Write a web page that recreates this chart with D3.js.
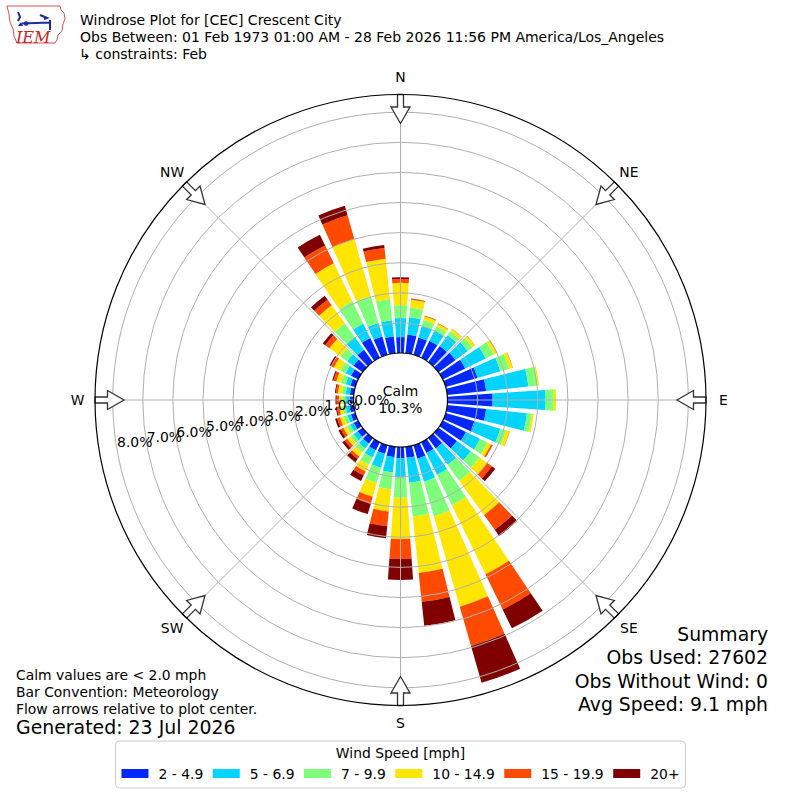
<!DOCTYPE html>
<html>
<head>
<meta charset="utf-8">
<script src="https://cdn.jsdelivr.net/npm/d3@7"></script>
<style>
body { margin: 0; background: #fff; }
text { font-family: "DejaVu Sans", sans-serif; fill: #000; }
</style>
</head>
<body>
<script>
// layout
var width = 800, height = 800,
    cx = 400.5, cy = 400,
    calmR = 47, outerR = 305.5,
    fs = 13.9;

// data (percent of obs, per 10 degree bin, from N clockwise)
var directions = [0, 10, 20, 30, 40, 50, 60, 70, 80, 90, 100, 110, 120, 130, 140, 150, 160, 170,
                  180, 190, 200, 210, 220, 230, 240, 250, 260, 270, 280, 290, 300, 310, 320, 330, 340, 350];
var speedBins = ["2 - 4.9", "5 - 6.9", "7 - 9.9", "10 - 14.9", "15 - 19.9", "20+"];
var binColors = ["#0028ff", "#00d4ff", "#7dff7a", "#ffe600", "#ff4a00", "#800000"];

var spd2 = [0.53, 0.63, 0.60, 0.63, 0.66, 0.70, 0.83, 1.10, 1.30, 1.50, 1.30, 1.03, 0.86, 0.76, 0.43, 0.40, 0.47, 0.37,
            0.37, 0.35, 0.30, 0.30, 0.23, 0.20, 0.17, 0.15, 0.13, 0.13, 0.13, 0.17, 0.27, 0.37, 0.50, 0.73, 0.63, 0.56];
var spd5 = [0.63, 0.57, 0.40, 0.37, 0.44, 0.50, 0.76, 0.79, 1.41, 1.76, 1.36, 0.86, 0.52, 0.57, 0.67, 0.80, 0.79, 0.83,
            0.63, 0.51, 0.48, 0.26, 0.20, 0.17, 0.13, 0.12, 0.14, 0.14, 0.14, 0.16, 0.20, 0.26, 0.53, 0.53, 0.47, 0.54];
var spd7 = [0.43, 0.33, 0.20, 0.16, 0.16, 0.20, 0.30, 0.30, 0.31, 0.27, 0.16, 0.20, 0.28, 0.36, 0.66, 1.13, 1.20, 1.13,
            0.69, 0.57, 0.52, 0.27, 0.17, 0.13, 0.13, 0.13, 0.10, 0.10, 0.13, 0.17, 0.19, 0.27, 0.56, 0.83, 0.93, 0.71];
var spd10 = [0.74, 0.26, 0.13, 0.10, 0.09, 0.10, 0.12, 0.12, 0.05, 0.08, 0.07, 0.12, 0.13, 0.30, 1.40, 2.55, 3.12, 1.89,
             1.37, 0.73, 0.48, 0.25, 0.16, 0.13, 0.12, 0.13, 0.11, 0.11, 0.13, 0.16, 0.24, 0.46, 0.74, 1.40, 1.96, 1.35];
var spd15 = [0.13, 0.03, 0.03, 0.02, 0.01, 0.01, 0.01, 0.01, 0.00, 0.00, 0.00, 0.01, 0.05, 0.20, 0.61, 1.30, 1.36, 0.96,
             0.66, 0.50, 0.25, 0.15, 0.10, 0.10, 0.10, 0.10, 0.08, 0.08, 0.07, 0.10, 0.10, 0.17, 0.23, 0.66, 0.83, 0.36];
var spd20 = [0.06, 0.01, 0.00, 0.00, 0.00, 0.00, 0.00, 0.00, 0.00, 0.00, 0.00, 0.00, 0.01, 0.14, 0.25, 0.70, 1.27, 0.80,
             0.70, 0.40, 0.35, 0.20, 0.14, 0.10, 0.08, 0.07, 0.04, 0.04, 0.03, 0.04, 0.06, 0.10, 0.16, 0.40, 0.33, 0.10];

var ringTicks = [0, 1, 2, 3, 4, 5, 6, 7, 8];
var compassLabels = ["N", "NE", "E", "SE", "S", "SW", "W", "NW"];
var compassDeg = [0, 45, 90, 135, 180, 225, 270, 315];
var calmPct = 10.3;

var titleLines = ["Windrose Plot for [CEC] Crescent City",
                  "Obs Between: 01 Feb 1973 01:00 AM - 28 Feb 2026 11:56 PM America/Los_Angeles",
                  " \u21b3 constraints: Feb"];
var noteLines = ["Calm values are < 2.0 mph", "Bar Convention: Meteorology", "Flow arrows relative to plot center."];
var generated = "Generated: 23 Jul 2026";
var summaryLines = ["Summary", "Obs Used: 27602", "Obs Without Wind: 0", "Avg Speed: 9.1 mph"];

var rad = Math.PI / 180;

var svg = d3.select("body").append("svg")
    .attr("width", width)
    .attr("height", height);

var r = d3.scaleLinear().domain([0, 8]).range([calmR, calmR + 8 * 30.1]);

// stack the speed bins
var keys = ["s2", "s5", "s7", "s10", "s15", "s20"];
var rows = directions.map(function(d, i) {
    return {dir: d, s2: spd2[i], s5: spd5[i], s7: spd7[i], s10: spd10[i], s15: spd15[i], s20: spd20[i]};
});
var series = d3.stack().keys(keys)(rows);

var plot = svg.append("g").attr("transform", "translate(" + cx + "," + cy + ")");

var arc = d3.arc()
    .innerRadius(function(d) { return r(d[0]); })
    .outerRadius(function(d) { return r(d[1]); })
    .startAngle(function(d) { return (d.data.dir - 4) * rad; })
    .endAngle(function(d) { return (d.data.dir + 4) * rad; });

plot.selectAll("g.bin")
    .data(series)
    .enter().append("g")
    .attr("class", "bin")
    .attr("fill", function(d, i) { return binColors[i]; })
    .selectAll("path")
    .data(function(d) { return d.filter(function(e) { return e[1] - e[0] > 0; }); })
    .enter().append("path")
    .attr("d", arc);

// grid
plot.selectAll("circle.ring")
    .data(ringTicks.slice(1))
    .enter().append("circle")
    .attr("class", "ring")
    .attr("r", function(d) { return r(d); })
    .attr("fill", "none")
    .attr("stroke", "#b0b0b0")
    .attr("stroke-width", 1);

plot.selectAll("line.spoke")
    .data(compassDeg)
    .enter().append("line")
    .attr("x1", function(d) { return calmR * Math.sin(d * rad); })
    .attr("y1", function(d) { return -calmR * Math.cos(d * rad); })
    .attr("x2", function(d) { return outerR * Math.sin(d * rad); })
    .attr("y2", function(d) { return -outerR * Math.cos(d * rad); })
    .attr("stroke", "#b0b0b0")
    .attr("stroke-width", 1);

// calm circle
plot.append("circle")
    .attr("r", calmR)
    .attr("fill", "#fff")
    .attr("stroke", "#000")
    .attr("stroke-width", 1.2);
plot.append("text").attr("x", 0).attr("y", -4).attr("text-anchor", "middle")
    .style("font-size", fs + "px").text("Calm");
plot.append("text").attr("x", 0).attr("y", 12.5).attr("text-anchor", "middle")
    .style("font-size", fs + "px").text(calmPct.toFixed(1) + "%");

// ring labels
var labAng = 10 * rad;
plot.selectAll("text.rlab")
    .data(ringTicks)
    .enter().append("text")
    .attr("class", "rlab")
    .attr("x", function(d) { return -r(d) * Math.cos(labAng); })
    .attr("y", function(d) { return r(d) * Math.sin(labAng) - 3; })
    .style("font-size", fs + "px")
    .text(function(d) { return d.toFixed(1) + "%"; });

// flow arrows
var arrowPts = [[-3, -outerR], [3, -outerR], [3, -293], [9.5, -293], [0, -276.5], [-9.5, -293], [-3, -293]];
plot.selectAll("path.arrow")
    .data(compassDeg)
    .enter().append("path")
    .attr("class", "arrow")
    .attr("d", "M" + arrowPts.join("L") + "Z")
    .attr("transform", function(d) { return "rotate(" + d + ")"; })
    .attr("fill", "#fff")
    .attr("stroke", "#333")
    .attr("stroke-width", 1.3)
    .attr("stroke-linejoin", "miter");

// outer frame
plot.append("circle")
    .attr("r", outerR)
    .attr("fill", "none")
    .attr("stroke", "#000")
    .attr("stroke-width", 1.2);

plot.selectAll("text.compass")
    .data(compassLabels)
    .enter().append("text")
    .attr("x", function(d, i) { return 323 * Math.sin(compassDeg[i] * rad); })
    .attr("y", function(d, i) { return -323 * Math.cos(compassDeg[i] * rad); })
    .attr("text-anchor", "middle")
    .attr("dy", "0.36em")
    .style("font-size", fs + "px")
    .text(function(d) { return d; });

// titles
svg.selectAll("text.title")
    .data(titleLines)
    .enter().append("text")
    .attr("x", function(d, i) { return i == 2 ? 79 : 80; })
    .attr("y", function(d, i) { return 25 + i * 17; })
    .style("font-size", "14px")
    .text(function(d) { return d; });

// notes bottom left
svg.selectAll("text.note")
    .data(noteLines)
    .enter().append("text")
    .attr("x", 16)
    .attr("y", function(d, i) { return 680 + i * 16.8; })
    .style("font-size", fs + "px")
    .text(function(d) { return d; });
svg.append("text").attr("x", 16).attr("y", 733.5)
    .style("font-size", "18.9px").text(generated);

// summary bottom right
svg.selectAll("text.summ")
    .data(summaryLines)
    .enter().append("text")
    .attr("x", 768)
    .attr("y", function(d, i) { return 641 + i * 23.3; })
    .attr("text-anchor", "end")
    .style("font-size", "18.8px")
    .text(function(d) { return d; });

// legend
var leg = svg.append("g");
var box = leg.append("rect")
    .attr("fill", "#fff")
    .attr("stroke", "#cccccc")
    .attr("stroke-width", 1)
    .attr("rx", 4);
leg.append("text").attr("x", cx).attr("y", 758).attr("text-anchor", "middle")
    .style("font-size", fs + "px").text("Wind Speed [mph]");
var items = leg.selectAll("g.item")
    .data(speedBins)
    .enter().append("g");
items.append("rect")
    .attr("width", 27).attr("height", 9).attr("y", 769)
    .attr("fill", function(d, i) { return binColors[i]; });
items.append("text")
    .attr("x", 37).attr("y", 778.5)
    .style("font-size", fs + "px")
    .text(function(d) { return d; });
var gap = 9.5;
var xs = [], xpos = 0;
items.each(function() {
    xs.push(xpos);
    var tl = d3.select(this).select("text").node().getComputedTextLength();
    xpos += 37 + tl + gap;
});
var total = xpos - gap;
var x0 = cx - total / 2;
items.attr("transform", function(d, i) { return "translate(" + (x0 + xs[i]) + ",0)"; });
items.select("rect").attr("x", 0);
box.attr("x", x0 - 6).attr("y", 741).attr("width", total + 12).attr("height", 47);

// IEM logo
var logo = svg.append("g");
logo.append("path")
    .attr("d", "M7,6 L60,6 L61,10 L64,13 L65,19 L63,24 L62,31 L58,35 L57,40 L55,43 L17,43 L14,36 L13,29 L10,22 L9,14 Z")
    .attr("fill", "none").attr("stroke", "#d04040").attr("stroke-width", 0.9);
logo.append("path")
    .attr("d", "M22,23.5 L50,22.5 M18,12 L20,17 L18,21 M40,15 L47,18 L44,19 M50,20 L50,30")
    .attr("fill", "none").attr("stroke", "#1a2a9a").attr("stroke-width", 2);
logo.append("path").attr("d", "M18,26 L21,22 L23,26 Z").attr("fill", "#1a2a9a");
logo.append("circle").attr("cx", 26).attr("cy", 23.5).attr("r", 2.2).attr("fill", "#1a2a9a");
logo.append("text").attr("x", 16).attr("y", 43)
    .style("font-family", "'DejaVu Serif', serif").style("font-style", "italic")
    .style("font-size", "16px").style("fill", "#cc2222").text("IEM");
</script>
</body>
</html>
